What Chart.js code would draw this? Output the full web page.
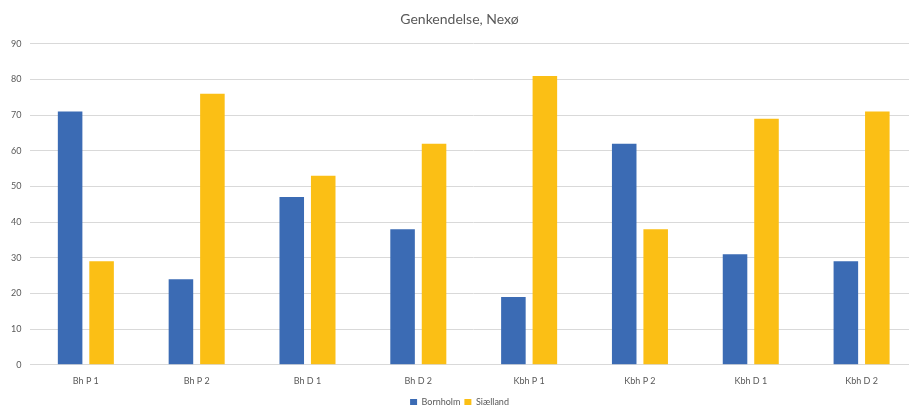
<!DOCTYPE html>
<html>
<head>
<meta charset="utf-8">
<script src="https://cdn.jsdelivr.net/npm/chart.js@4"></script>
<style>
  html, body { margin: 0; padding: 0; background: #fff; overflow: hidden; }
  /* the plot runs a little past the right and bottom edges of the window */
  #wrap { width: 917px; height: 417px; position: relative; }
</style>
</head>
<body>
<div id="wrap"><canvas id="chart"></canvas></div>
<script>
// Recognition scores per test condition
const categories = ['Bh P 1', 'Bh P 2', 'Bh D 1', 'Bh D 2', 'Kbh P 1', 'Kbh P 2', 'Kbh D 1', 'Kbh D 2'];
const bornholm = [71, 24, 47, 38, 19, 62, 31, 29];
const sjaelland = [29, 76, 53, 62, 81, 38, 69, 71];
const yTicks = [0, 10, 20, 30, 40, 50, 60, 70, 80, 90];

const textColor = '#595959';
const gridColor = '#d9d9d9';
const font = 'Lato, Carlito, "Open Sans", sans-serif';

new Chart(document.getElementById('chart'), {
  type: 'bar',
  data: {
    labels: categories,
    datasets: [
      { label: 'Bornholm', data: bornholm, backgroundColor: '#3b6bb4' },
      { label: 'Sjælland', data: sjaelland, backgroundColor: '#fbbf15' }
    ]
  },
  options: {
    responsive: true,
    maintainAspectRatio: false,
    animation: false,
    datasets: { bar: { barPercentage: 0.78, categoryPercentage: 0.568 } },
    layout: { padding: { left: 2, right: 0, top: 0, bottom: 0 } },
    plugins: {
      title: {
        display: true,
        text: 'Genkendelse, Nexø',
        color: textColor,
        font: { family: font, size: 14, weight: 'normal' },
        padding: { top: 11, bottom: 16 }
      },
      legend: {
        position: 'bottom',
        labels: {
          color: textColor,
          font: { family: font, size: 9 },
          boxWidth: 7,
          boxHeight: 7,
          padding: 4
        }
      },
      tooltip: { enabled: true }
    },
    scales: {
      x: {
        grid: { display: false },
        border: { display: true, color: gridColor },
        ticks: { color: textColor, font: { family: font, size: 9 }, padding: 3 },
        // leave room between the category labels and the legend
        afterFit: scale => { scale.height += 4.5; }
      },
      y: {
        min: 0,
        max: 90,
        afterBuildTicks: axis => { axis.ticks = yTicks.map(v => ({ value: v })); },
        grid: { color: gridColor, drawTicks: false },
        border: { display: false },
        ticks: { color: textColor, font: { family: font, size: 9 }, padding: 9 }
      }
    }
  }
});
</script>
</body>
</html>
